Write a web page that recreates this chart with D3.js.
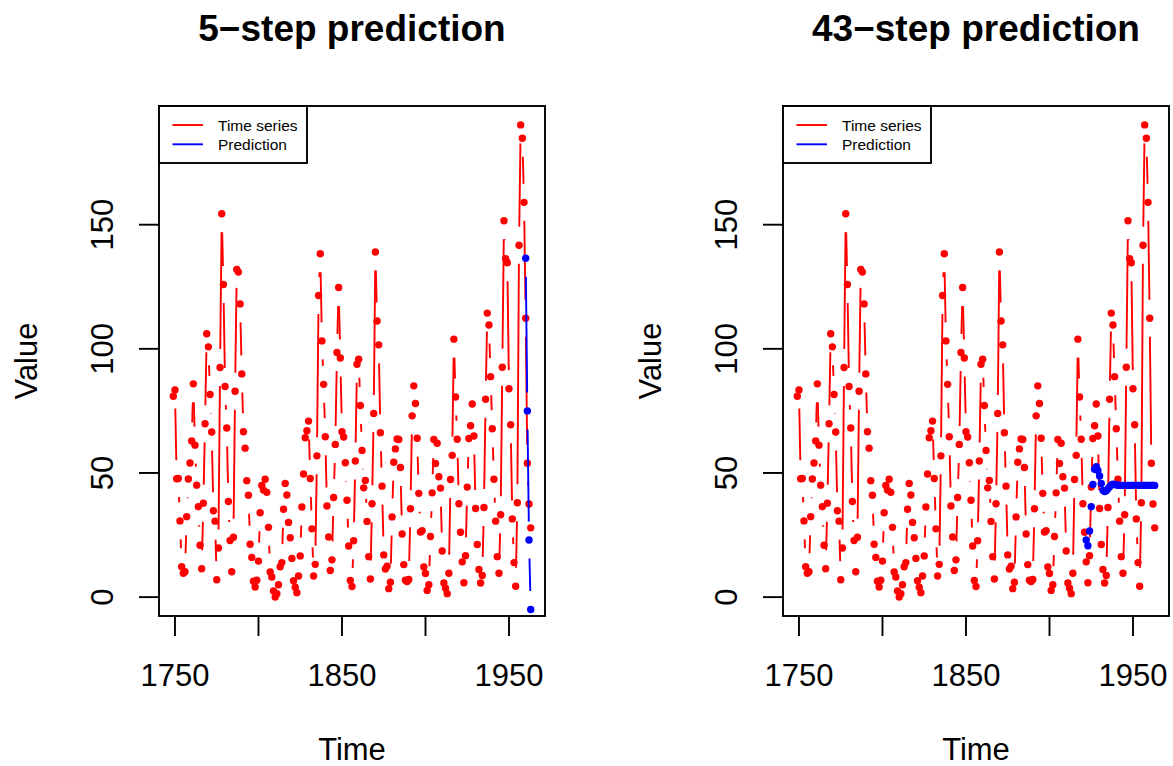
<!DOCTYPE html>
<html>
<head>
<meta charset="utf-8">
<script src="https://cdn.jsdelivr.net/npm/d3@7"></script>
<style>
  body { margin: 0; background: #fff; }
  svg { display: block; font-family: "Liberation Sans", Arial, Helvetica, sans-serif; }
</style>
</head>
<body>
<div id="chart"></div>
<script>
// Yearly series, 1749 .. 1963
const seriesStart = 1749;
const seriesValues = [
  80.9,
  83.4, 47.7, 47.8, 30.7, 12.2, 9.6, 10.2, 32.4, 47.6, 54.0,
  62.9, 85.9, 61.2, 45.1, 36.4, 20.9, 11.4, 37.8, 69.8, 106.1,
  100.8, 81.6, 66.5, 34.8, 30.6, 7.0, 19.8, 92.5, 154.4, 125.9,
  84.8, 68.1, 38.5, 22.8, 10.2, 24.1, 82.9, 132.0, 130.9, 118.1,
  89.9, 66.6, 60.0, 46.9, 41.0, 21.3, 16.0, 6.4, 4.1, 6.8,
  14.5, 34.0, 45.0, 43.1, 47.5, 42.2, 28.1, 10.1, 8.1, 2.5,
  0.0, 1.4, 5.0, 12.2, 13.9, 35.4, 45.8, 41.1, 30.1, 23.9,
  15.6, 6.6, 4.0, 1.8, 8.5, 16.6, 36.3, 49.6, 64.2, 67.0,
  70.9, 47.8, 27.5, 8.5, 13.2, 56.9, 121.5, 138.3, 103.2, 85.7,
  64.6, 36.7, 24.2, 10.7, 15.0, 40.1, 61.5, 98.5, 124.7, 96.3,
  66.6, 64.5, 54.1, 39.0, 20.6, 6.7, 4.3, 22.7, 54.8, 93.8,
  95.8, 77.2, 59.1, 44.0, 47.0, 30.5, 16.3, 7.3, 37.6, 74.0,
  139.0, 111.2, 101.6, 66.2, 44.7, 17.0, 11.3, 12.4, 3.4, 6.0,
  32.3, 54.3, 59.7, 63.7, 63.5, 52.2, 25.4, 13.1, 6.8, 6.3,
  7.1, 35.6, 73.0, 85.1, 78.0, 64.0, 41.8, 26.2, 26.7, 12.1,
  9.5, 2.7, 5.0, 24.4, 42.0, 63.5, 53.8, 62.0, 48.5, 43.9,
  18.6, 5.7, 3.6, 1.4, 9.6, 47.4, 57.1, 103.9, 80.6, 63.6,
  37.6, 26.1, 14.2, 5.8, 16.7, 44.3, 63.9, 69.0, 77.8, 64.9,
  35.7, 21.2, 11.1, 5.7, 8.7, 36.1, 79.7, 114.4, 109.6, 88.8,
  67.8, 47.5, 30.6, 16.3, 9.6, 33.2, 92.6, 151.6, 136.3, 134.7,
  83.9, 69.4, 31.5, 13.9, 4.4, 38.0, 141.7, 190.2, 184.8, 159.0,
  112.3, 53.9, 37.5, 27.9
];

// Predictions
const pred5Start = 1960;
const pred5Values = [136.5, 75.0, 23.0, -5.0];

const pred43Start = 1922;
const pred43Values = [
  23.0, 20.7, 26.6, 36.4, 45.4, 51.5, 52.5, 51.0, 48.8, 45.8,
  43.0, 42.5, 42.8, 43.6, 44.5, 45.2, 45.5, 45.4, 45.2, 45.1,
  45.0, 45.0, 45.0, 45.0, 45.0, 45.0, 45.0, 45.0, 45.0, 45.0,
  45.0, 45.0, 45.0, 45.0, 45.0, 45.0, 45.0, 45.0, 45.0, 45.0,
  45.0, 45.0
];

const panelTitles = ["5\u2212step prediction", "43\u2212step prediction"];
const xTicks = [1750, 1800, 1850, 1900, 1950];
const xTickLabels = ["1750", "", "1850", "", "1950"];
const yTicks = [0, 50, 100, 150];
const legendLabels = ["Time series", "Prediction"];
const legendColors = ["#ff0000", "#0000ff"];

const toPoints = (start, values) => values.map((v, i) => ({ year: start + i, value: v }));
const series = toPoints(seriesStart, seriesValues);
const panels = [
  { title: panelTitles[0], left: 159, pred: toPoints(pred5Start, pred5Values) },
  { title: panelTitles[1], left: 783, pred: toPoints(pred43Start, pred43Values) },
];

const W = 1173, H = 766;
const boxW = 386, boxTop = 106, boxBottom = 616;
const lw = 1.9;
const gap = 18.5; // type = "b" gap around points
const fontSize = 31;

const svg = d3.select("#chart").append("svg")
  .attr("width", W).attr("height", H);
svg.append("rect").attr("width", W).attr("height", H).attr("fill", "#fff");

// R-like axis limits: data range extended by 4%
const xExt = d3.extent(series, d => d.year);
const yExt = d3.extent(series, d => d.value);
const xPad = (xExt[1] - xExt[0]) * 0.04;
const yPad = (yExt[1] - yExt[0]) * 0.04;

function drawSeries(g, data, x, y, color) {
  const pts = data.map(d => [x(d.year), y(d.value)]);
  for (let i = 0; i < pts.length - 1; i++) {
    const [x0, y0] = pts[i], [x1, y1] = pts[i + 1];
    const len = Math.hypot(x1 - x0, y1 - y0);
    if (len <= 2 * gap) continue;
    const ux = (x1 - x0) / len, uy = (y1 - y0) / len;
    g.append("line")
      .attr("x1", x0 + ux * gap).attr("y1", y0 + uy * gap)
      .attr("x2", x1 - ux * gap).attr("y2", y1 - uy * gap)
      .attr("stroke", color).attr("stroke-width", lw);
  }
  g.selectAll(null).data(data).enter().append("circle")
    .attr("cx", d => x(d.year))
    .attr("cy", d => y(d.value))
    .attr("r", 3.7)
    .attr("fill", color);
}

panels.forEach(p => {
  const x = d3.scaleLinear().domain([xExt[0] - xPad, xExt[1] + xPad]).range([p.left, p.left + boxW]);
  const y = d3.scaleLinear().domain([yExt[0] - yPad, yExt[1] + yPad]).range([boxBottom, boxTop]);
  const cx = p.left + boxW / 2;

  const g = svg.append("g");
  drawSeries(g, series, x, y, "#ff0000");
  drawSeries(g, p.pred, x, y, "#0000ff");

  // box
  svg.append("rect")
    .attr("x", p.left).attr("y", boxTop)
    .attr("width", boxW).attr("height", boxBottom - boxTop)
    .attr("fill", "none").attr("stroke", "#000").attr("stroke-width", lw);

  // x axis
  const xa = svg.append("g");
  xa.selectAll("line").data(xTicks).enter().append("line")
    .attr("x1", d => x(d)).attr("x2", d => x(d))
    .attr("y1", boxBottom).attr("y2", boxBottom + 20)
    .attr("stroke", "#000").attr("stroke-width", lw);
  xa.selectAll("text").data(xTicks).enter().append("text")
    .attr("x", d => x(d)).attr("y", 686)
    .attr("text-anchor", "middle").attr("font-size", fontSize)
    .text((d, i) => xTickLabels[i]);

  // y axis
  const ya = svg.append("g");
  ya.selectAll("line").data(yTicks).enter().append("line")
    .attr("x1", p.left - 20).attr("x2", p.left)
    .attr("y1", d => y(d)).attr("y2", d => y(d))
    .attr("stroke", "#000").attr("stroke-width", lw);
  ya.selectAll("text").data(yTicks).enter().append("text")
    .attr("transform", d => `translate(${p.left - 46},${y(d)}) rotate(-90)`)
    .attr("text-anchor", "middle").attr("font-size", fontSize)
    .text(d => d);

  // titles
  svg.append("text")
    .attr("x", cx).attr("y", 41)
    .attr("text-anchor", "middle").attr("font-size", 37).attr("font-weight", "bold")
    .text(p.title);
  svg.append("text")
    .attr("x", cx).attr("y", 760)
    .attr("text-anchor", "middle").attr("font-size", fontSize)
    .text("Time");
  svg.append("text")
    .attr("transform", `translate(${p.left - 122},${(boxTop + boxBottom) / 2}) rotate(-90)`)
    .attr("text-anchor", "middle").attr("font-size", fontSize)
    .text("Value");

  // legend
  const lg = svg.append("g").attr("transform", `translate(${p.left},${boxTop})`);
  lg.append("rect")
    .attr("width", 148).attr("height", 57)
    .attr("fill", "#fff").attr("stroke", "#000").attr("stroke-width", lw);
  legendLabels.forEach((lab, i) => {
    const ly = 19 + i * 19.3;
    lg.append("line")
      .attr("x1", 13.5).attr("x2", 44).attr("y1", ly).attr("y2", ly)
      .attr("stroke", legendColors[i]).attr("stroke-width", lw);
    lg.append("text")
      .attr("x", 59).attr("y", ly + 5.5)
      .attr("font-size", 15.5)
      .text(lab);
  });
});
</script>
</body>
</html>
